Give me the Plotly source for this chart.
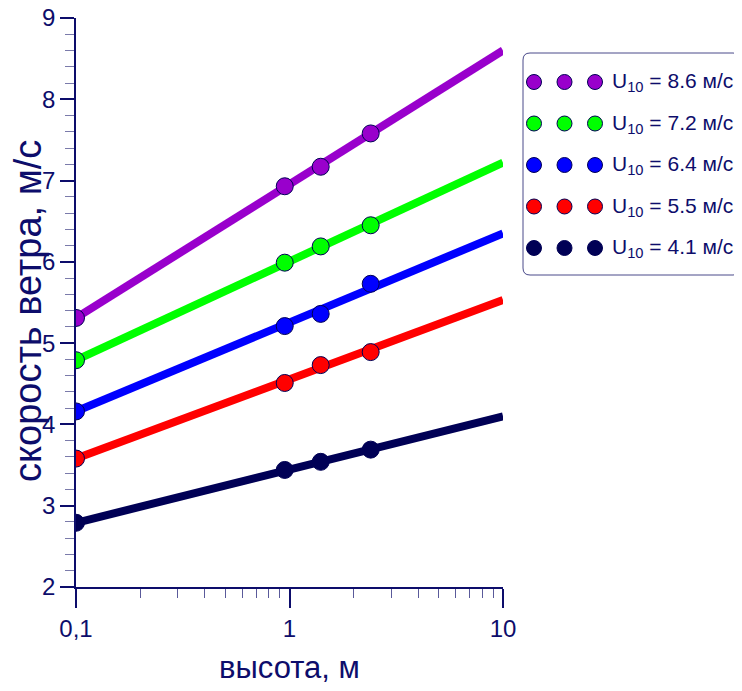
import plotly.graph_objects as go

# ---- data ----
heights = [0.1, 0.95, 1.4, 2.4]
line_x = [0.1, 10]
labels = ["U<sub>10</sub> = 8.6 м/с", "U<sub>10</sub> = 7.2 м/с", "U<sub>10</sub> = 6.4 м/с",
          "U<sub>10</sub> = 5.5 м/с", "U<sub>10</sub> = 4.1 м/с"]
colors = ["#9900cc", "#00ff00", "#0000ff", "#ff0000", "#000055"]
points = [
    [5.31, 6.93, 7.17, 7.58],
    [4.79, 5.99, 6.19, 6.45],
    [4.16, 5.21, 5.36, 5.73],
    [3.58, 4.51, 4.73, 4.89],
    [2.79, 3.44, 3.54, 3.69],
]
line_ends = [
    [5.31, 8.60],
    [4.79, 7.22],
    [4.16, 6.35],
    [3.58, 5.53],
    [2.79, 4.10],
]
x_ticks = [0.1, 1, 10]
x_ticktext = ["0,1", "1", "10"]
x_minor = [0.2, 0.3, 0.4, 0.5, 0.6, 0.7, 0.8, 0.9, 2, 3, 4, 5, 6, 7, 8, 9]
y_ticks = [2, 3, 4, 5, 6, 7, 8, 9]
x_title = "высота, м"
y_title = "скорость ветра, м/с"

NAVY = "#0d0d6b"
FONT = "Liberation Sans, Arial"
OFF = 8                      # page body margin in the browser
W, H = 742 - OFF, 691 - OFF  # figure size in figure pixels
SL, ST, SR, SB = 76, 18, 742, 587   # screen-space plot box
L, T = SL - OFF, ST - OFF
R = W - (SR - OFF)
B = H - (SB - OFF)
pw = W - L - R
ph = H - T - B

def px_x(p):   # screen px -> paper
    return (p - SL) / pw

def px_y(p):
    return (SB - p) / ph

fig = go.Figure()

for i in reversed(range(5)):
    fig.add_trace(go.Scatter(x=line_x, y=line_ends[i], mode="lines",
                             line=dict(color=colors[i], width=8),
                             showlegend=False, hoverinfo="skip"))
for i in reversed(range(5)):
    fig.add_trace(go.Scatter(x=heights, y=points[i], mode="markers",
                             marker=dict(color=colors[i], size=17,
                                         line=dict(color="#000055", width=1)),
                             showlegend=False))

for i in range(5):
    row = 4 - i
    fig.add_trace(go.Scatter(x=[0, 1, 2], y=[row] * 3, mode="markers",
                             xaxis="x2", yaxis="y2",
                             marker=dict(color=colors[i], size=15,
                                         line=dict(color="#000055", width=1)),
                             showlegend=False, hoverinfo="skip"))
    fig.add_annotation(x=2.5, y=row, xref="x2", yref="y2", text=labels[i],
                       showarrow=False, xanchor="left", yanchor="middle",
                       font=dict(family=FONT, size=21, color=NAVY))

x0, x1 = px_x(523), px_x(740)
y0, y1 = px_y(275), px_y(53)
rx, ry = 7 / pw, 7 / ph
path = (f"M {x0+rx},{y0} L {x1-rx},{y0} Q {x1},{y0} {x1},{y0+ry} "
        f"L {x1},{y1-ry} Q {x1},{y1} {x1-rx},{y1} L {x0+rx},{y1} "
        f"Q {x0},{y1} {x0},{y1-ry} L {x0},{y0+ry} Q {x0},{y0} {x0+rx},{y0} Z")
fig.add_shape(type="path", path=path, xref="paper", yref="paper",
              line=dict(color="#4a4a8a", width=1), fillcolor="rgba(0,0,0,0)",
              layer="below")

fig.add_annotation(x=px_x(28), y=px_y(311), xref="paper", yref="paper",
                   text=y_title, textangle=-90, showarrow=False,
                   xanchor="center", yanchor="middle",
                   font=dict(family=FONT, size=38, color=NAVY))

step = 30.5
lx0 = 534
rowh = 41.5
ly0 = 248
fig.update_layout(
    xaxis2=dict(domain=[px_x(503), 1.0], range=[(503 - lx0) / step, (SR - lx0) / step],
                visible=False, anchor="y2"),
    yaxis2=dict(domain=[0, 1], range=[(ly0 - SB) / rowh, (ly0 - ST) / rowh],
                visible=False, anchor="x2"),
)

fig.update_layout(
    width=W, height=H,
    margin=dict(l=L, r=R, t=T, b=B, autoexpand=False),
    paper_bgcolor="white", plot_bgcolor="white",
    font=dict(family=FONT, color=NAVY),
    xaxis=dict(type="log", domain=[0, px_x(503)], range=[-1, 1],
               tickvals=x_ticks, ticktext=x_ticktext, automargin=False,
               ticks="outside", ticklen=19, tickwidth=1.5, tickcolor=NAVY,
               ticklabeloverflow="allow",
               showline=True, linecolor=NAVY, linewidth=1.5,
               showgrid=False, zeroline=False,
               tickfont=dict(size=24, color=NAVY, family=FONT),
               minor=dict(tickvals=x_minor, ticks="outside", ticklen=9,
                          tickcolor="#5a5a9a", tickwidth=1.2, showgrid=False),
               title=dict(text=x_title, font=dict(size=31, color=NAVY, family=FONT),
                          standoff=16),
               anchor="y"),
    yaxis=dict(range=[2, 9], tickvals=y_ticks, automargin=False,
               ticks="outside", ticklen=14, tickwidth=1.5, tickcolor=NAVY,
               ticklabelposition="outside", ticklabeloverflow="allow",
               showline=True, linecolor=NAVY, linewidth=1.5,
               showgrid=False, zeroline=False,
               tickfont=dict(size=24, color=NAVY, family=FONT),
               minor=dict(dtick=0.2, ticks="outside", ticklen=9,
                          tickcolor="#7a7aaa", tickwidth=1.2, showgrid=False),
               anchor="x"),
)

fig.write_html("out.html")
